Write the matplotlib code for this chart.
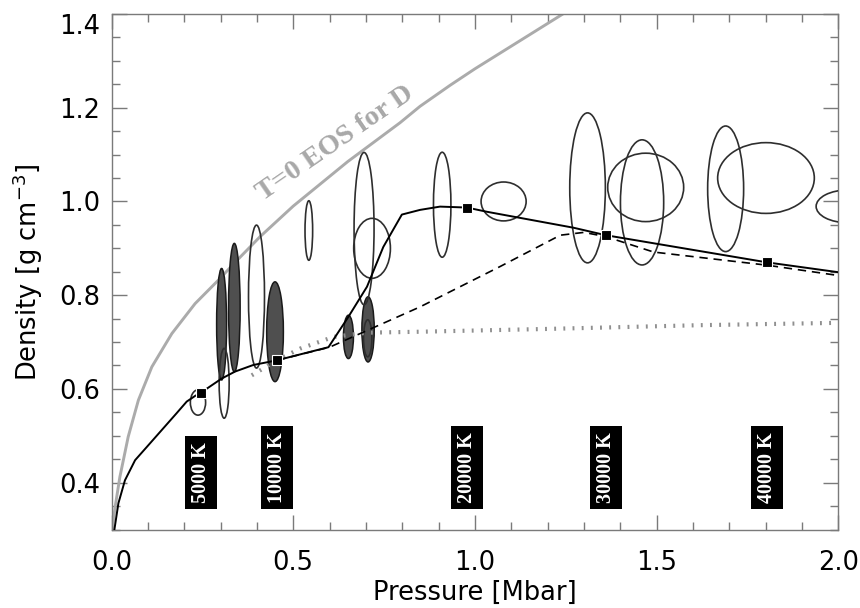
import matplotlib
matplotlib.use("Agg")
import matplotlib.pyplot as plt
from matplotlib.patches import Ellipse
from matplotlib.ticker import MultipleLocator, FormatStrFormatter

# ---------------- data ----------------
# T=0 EOS for D (gray solid)
t0_P = [0.002, 0.010, 0.023, 0.046, 0.074, 0.111, 0.166, 0.230, 0.294, 0.340,
        0.409, 0.50, 0.65, 0.794, 0.849, 0.932, 1.0, 1.242, 1.30]
t0_rho = [0.30, 0.348, 0.412, 0.498, 0.576, 0.647, 0.718, 0.782, 0.832, 0.870,
          0.925, 0.99, 1.085, 1.168, 1.203, 1.248, 1.283, 1.40, 1.43]

# main Hugoniot (black solid)
hug_P = [0.008, 0.019, 0.037, 0.065, 0.097, 0.138, 0.179, 0.207, 0.230, 0.246,
         0.303, 0.340, 0.390, 0.455, 0.597, 0.652, 0.703, 0.748, 0.799, 0.849,
         0.904, 0.978, 1.033, 1.271, 1.360, 1.804, 2.0]
hug_rho = [0.30, 0.356, 0.405, 0.448, 0.476, 0.512, 0.548, 0.573, 0.585, 0.592,
           0.622, 0.637, 0.651, 0.661, 0.689, 0.754, 0.818, 0.903, 0.972, 0.982,
           0.989, 0.987, 0.978, 0.944, 0.928, 0.870, 0.849]

# dashed curve
dash_P = [0.455, 0.600, 0.849, 1.069, 1.235, 1.30, 1.36, 1.492, 1.804, 2.0]
dash_rho = [0.661, 0.689, 0.775, 0.861, 0.928, 0.934, 0.925, 0.892, 0.864, 0.842]

# gray dotted curve
dot_P = [0.386, 0.455, 0.519, 0.611, 0.703, 0.849, 1.2, 1.62, 2.0]
dot_rho = [0.629, 0.661, 0.686, 0.711, 0.720, 0.722, 0.728, 0.736, 0.741]

# temperature markers
sq_P = [0.246, 0.455, 0.978, 1.360, 1.805]
sq_rho = [0.592, 0.661, 0.987, 0.928, 0.871]
temp_labels = ["5000 K", "10000 K", "20000 K", "30000 K", "40000 K"]

# error ellipses: centre P, centre rho, full width (Mbar), full height (g/cc), filled?
ell_P = [0.238, 0.303, 0.338, 0.310, 0.399, 0.450, 0.543, 0.652, 0.706, 0.705,
         0.695, 0.717, 0.910, 1.079, 1.310, 1.470, 1.460, 1.690, 1.801, 2.027]
ell_rho = [0.571, 0.738, 0.7735, 0.612, 0.797, 0.722, 0.938, 0.711, 0.727, 0.708,
           0.942, 0.900, 0.993, 1.000, 1.029, 1.030, 0.998, 1.027, 1.050, 0.9895]
ell_w = [0.042, 0.0275, 0.032, 0.0275, 0.044, 0.046, 0.021, 0.0275, 0.034, 0.023,
         0.055, 0.101, 0.048, 0.124, 0.098, 0.209, 0.119, 0.099, 0.266, 0.176]
ell_h = [0.054, 0.238, 0.274, 0.149, 0.305, 0.213, 0.127, 0.0925, 0.139, 0.079,
         0.325, 0.128, 0.224, 0.083, 0.320, 0.146, 0.267, 0.268, 0.151, 0.070]
ell_fill = [False, True, True, False, False, True, False, True, True, False,
            False, False, False, False, False, False, False, False, False, False]

# ---------------- figure ----------------
fig = plt.figure(figsize=(8.6, 6.08), dpi=100)
ax = fig.add_axes([111.5 / 860, 1 - 529.5 / 608, (838.3 - 111.5) / 860, (529.5 - 14) / 608])

ax.set_xlim(0.0, 2.0)
ax.set_ylim(0.3, 1.4)

# T=0 curve
ax.plot(t0_P, t0_rho, color="#ababab", lw=2.1, zorder=2)

# ellipses
for i in range(len(ell_P)):
    if ell_fill[i]:
        e = Ellipse((ell_P[i], ell_rho[i]), ell_w[i], ell_h[i],
                    facecolor="#4f4f4f", edgecolor="#1a1a1a", lw=1.1, zorder=3)
    else:
        e = Ellipse((ell_P[i], ell_rho[i]), ell_w[i], ell_h[i],
                    facecolor="none", edgecolor="#2e2e2e", lw=1.2, zorder=4)
    ax.add_patch(e)

# dotted gray curve
ax.plot(dot_P, dot_rho, color="#8f8f8f", lw=3.0, linestyle=(0, (0.45, 1.75)),
        zorder=4, dash_capstyle="butt")
# dashed curve
ax.plot(dash_P, dash_rho, color="black", lw=1.2, linestyle=(0, (5, 3.5)), zorder=5)
# main curve
ax.plot(hug_P, hug_rho, color="black", lw=1.4, zorder=6)
# square markers
ax.plot(sq_P, sq_rho, linestyle="none", marker="s", ms=6.5, mfc="black",
        mec="white", mew=0.8, zorder=7)

# temperature labels
for x, t in zip(sq_P, temp_labels):
    ax.text(x, 0.3575, t, rotation=90, ha="center", va="bottom", color="white",
            fontsize=14.5, fontweight="bold", family="Liberation Serif",
            bbox=dict(boxstyle="square,pad=0.3", fc="black", ec="none"), zorder=8)

# T=0 label
ax.text(0.615, 1.124, "T=0 EOS for D", rotation=34.5, rotation_mode="anchor",
        ha="center", va="center", color="#a8a8a8", fontsize=20.5, fontweight="bold",
        family="Liberation Serif", zorder=8)

# ticks
ax.xaxis.set_major_locator(MultipleLocator(0.5))
ax.xaxis.set_minor_locator(MultipleLocator(0.1))
ax.yaxis.set_major_locator(MultipleLocator(0.2))
ax.yaxis.set_minor_locator(MultipleLocator(0.05))
ax.xaxis.set_major_formatter(FormatStrFormatter("%.1f"))
ax.yaxis.set_major_formatter(FormatStrFormatter("%.1f"))
ax.tick_params(which="both", direction="in", top=True, right=True, color="#7a7a7a",
               width=1.0, labelsize=18.5)
ax.tick_params(which="major", length=11)
ax.tick_params(which="minor", length=5.5)
ax.tick_params(axis="x", which="major", pad=15)
ax.tick_params(axis="y", which="major", pad=8)
for s in ax.spines.values():
    s.set_color("#7a7a7a")
    s.set_linewidth(1.0)

fig.text(474.9 / 860, 1 - 593 / 608, "Pressure [Mbar]", ha="center", va="center",
         fontsize=18.5)
fig.text(28 / 860, 1 - 272 / 608, "Density [g cm$^{-3}$]", ha="center", va="center",
         rotation=90, fontsize=18.5)

# top y label sits just below its tick, as in the reference
fig.canvas.draw()
for tk in ax.yaxis.get_major_ticks():
    if abs(tk.get_loc() - 1.4) < 1e-6:
        tk.label1.set_va("top")

fig.savefig("out.png", dpi=100)
